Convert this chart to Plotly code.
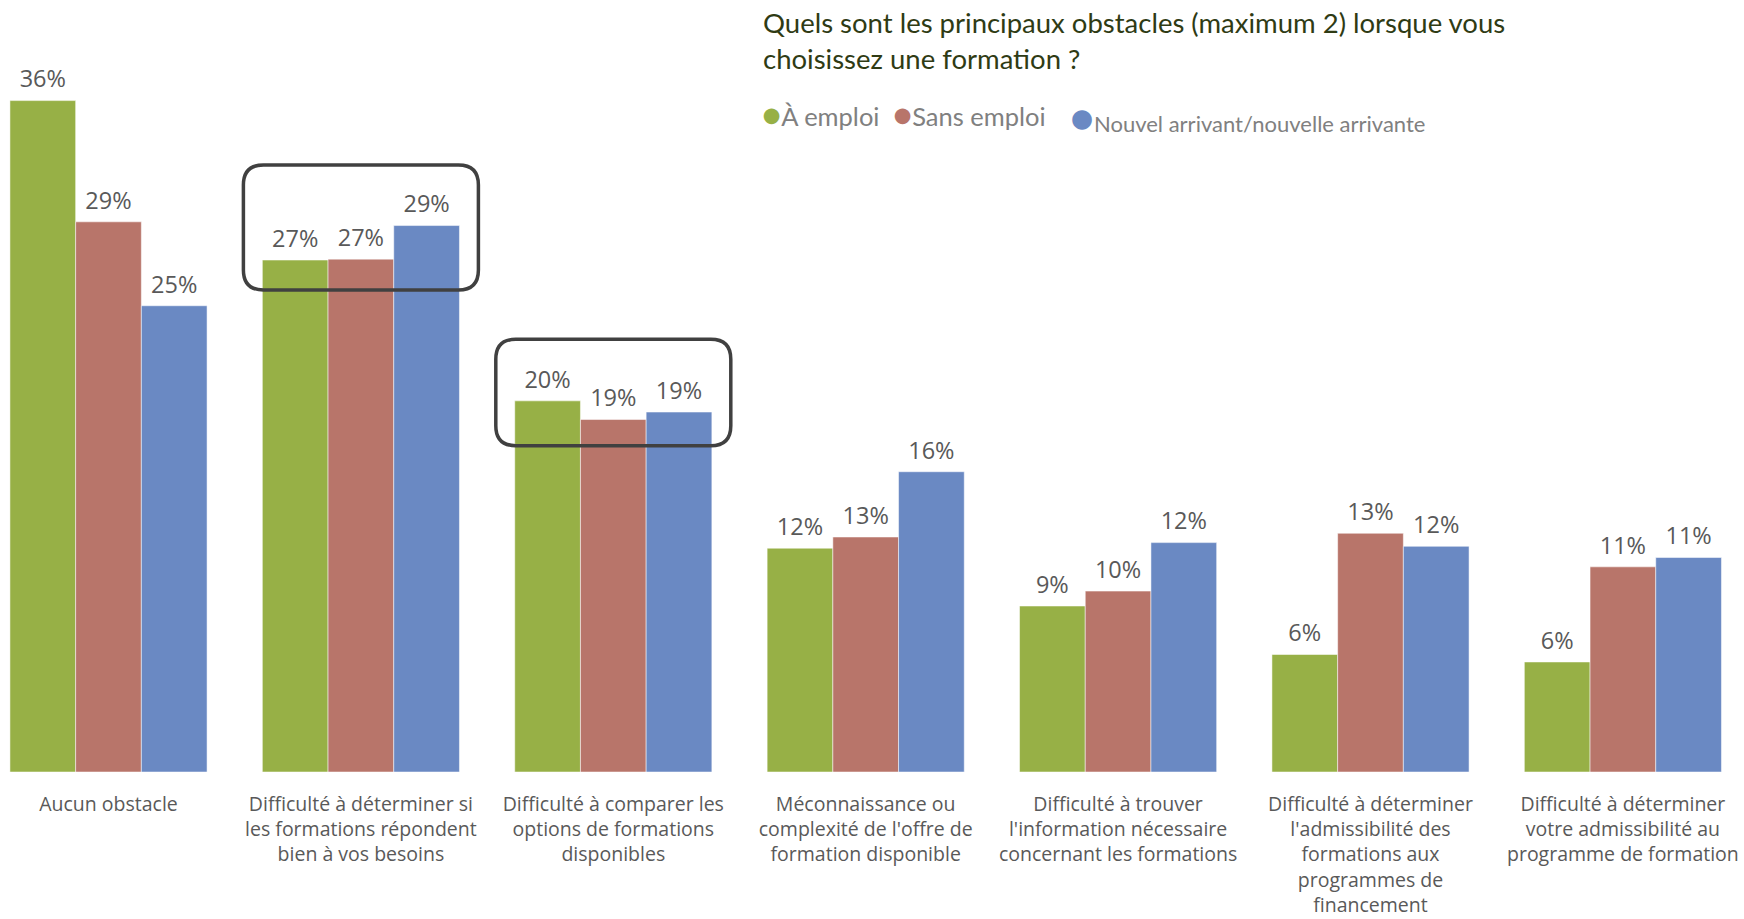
import plotly.graph_objects as go

# ---------------- data ----------------
CATEGORIES = [
    "Aucun obstacle",
    "Difficulté à déterminer si<br>les formations répondent<br>bien à vos besoins",
    "Difficulté à comparer les<br>options de formations<br>disponibles",
    "Méconnaissance ou<br>complexité de l'offre de<br>formation disponible",
    "Difficulté à trouver<br>l'information nécessaire<br>concernant les formations",
    "Difficulté à déterminer<br>l'admissibilité des<br>formations aux<br>programmes de<br>financement",
    "Difficulté à déterminer<br>votre admissibilité au<br>programme de formation",
]
SERIES = ["À emploi", "Sans emploi", "Nouvel arrivant/nouvelle arrivante"]
EMPLOI = [36.0, 27.45, 19.9, 12.0, 8.9, 6.3, 5.9]
SANS_EMPLOI = [29.5, 27.5, 18.9, 12.6, 9.7, 12.8, 11.0]
NOUVEL = [25.0, 29.3, 19.3, 16.1, 12.3, 12.1, 11.5]
EMPLOI_LABELS = ["36%", "27%", "20%", "12%", "9%", "6%", "6%"]
SANS_LABELS = ["29%", "27%", "19%", "13%", "10%", "13%", "11%"]
NOUVEL_LABELS = ["25%", "29%", "19%", "16%", "12%", "12%", "11%"]
COLORS = ["#97b046", "#b8756a", "#6a89c3"]
TITLE = "Quels sont les principaux obstacles (maximum 2) lorsque vous<br>choisissez une formation ?"
HIGHLIGHT_GROUPS = [1, 2]
HIGHLIGHT_Y = [(25.85, 32.55), (17.5, 23.2)]

# ---------------- layout constants ----------------
W, H = 1744, 919
PLOT_BOTTOM_PX = 772
PX_PER_GROUP = 252.4
PX_PER_PCT = 18.65
FIRST_CENTER_PX = 108.5
X0 = -FIRST_CENTER_PX / PX_PER_GROUP
XRANGE = [X0, X0 + W / PX_PER_GROUP]
YRANGE = [0, PLOT_BOTTOM_PX / PX_PER_PCT]
BARGAP = 0.219

LABEL_COLOR = "#595959"
FONT = "Open Sans"

x = list(range(len(CATEGORIES)))
fig = go.Figure()
for name, vals, col in zip(SERIES, [EMPLOI, SANS_EMPLOI, NOUVEL], COLORS):
    fig.add_trace(go.Bar(
        x=x, y=vals, name=name,
        marker=dict(color=col, line=dict(color="rgba(255,255,255,0.5)", width=1)),
        showlegend=False, hoverinfo="skip",
    ))

# value labels: grouped scatter text aligned with grouped bars
for name, vals, labels in zip(SERIES, [EMPLOI, SANS_EMPLOI, NOUVEL],
                              [EMPLOI_LABELS, SANS_LABELS, NOUVEL_LABELS]):
    fig.add_trace(go.Scatter(
        x=x, y=vals, name=name + " labels", mode="markers+text",
        text=labels, textposition="top center", cliponaxis=False,
        marker=dict(size=10, opacity=0, color="white"),
        textfont=dict(family=FONT, size=23.5, color=LABEL_COLOR),
        showlegend=False, hoverinfo="skip",
    ))

# rounded highlight boxes
half_w = 117.5 / PX_PER_GROUP
rx = 20 / PX_PER_GROUP
ry = 20 / PX_PER_PCT
for g, (yb, yt) in zip(HIGHLIGHT_GROUPS, HIGHLIGHT_Y):
    x0, x1 = g - half_w, g + half_w
    path = (f"M {x0+rx},{yt} L {x1-rx},{yt} Q {x1},{yt} {x1},{yt-ry} "
            f"L {x1},{yb+ry} Q {x1},{yb} {x1-rx},{yb} L {x0+rx},{yb} "
            f"Q {x0},{yb} {x0},{yb+ry} L {x0},{yt-ry} Q {x0},{yt} {x0+rx},{yt} Z")
    fig.add_shape(type="path", path=path, xref="x", yref="y",
                  line=dict(color="#404040", width=3.5), layer="above")


def py(p):
    return (PLOT_BOTTOM_PX - p) / PLOT_BOTTOM_PX


# title
fig.add_annotation(
    x=760.7 / W, y=py(4), xref="paper", yref="paper", xanchor="left", yanchor="top",
    align="left", showarrow=False, text=TITLE,
    font=dict(family="Lato", size=27.5, color="#2f3b14"),
)

# legend as text annotations
legend_items = [
    (SERIES[0], COLORS[0], 760, 113.5, 25.5, 32),
    (SERIES[1], COLORS[1], 891, 113.5, 25.5, 32),
    (SERIES[2], COLORS[2], 1068, 117, 22, 40),
]
for name, col, xpx, ypx, fs, dotfs in legend_items:
    fig.add_annotation(
        x=xpx / W, y=py(ypx), xref="paper", yref="paper",
        xanchor="left", yanchor="middle", showarrow=False,
        text=f"<span style='color:{col};font-size:{dotfs}px'>●</span>{name}",
        font=dict(family="Lato", size=fs, color="#808080"),
    )

fig.update_layout(
    width=W, height=H,
    template="none",
    paper_bgcolor="white", plot_bgcolor="white",
    margin=dict(l=0, r=0, t=0, b=H - PLOT_BOTTOM_PX, pad=0),
    barmode="group", bargap=BARGAP, bargroupgap=0,
    scattermode="group", scattergap=BARGAP,
    xaxis=dict(range=XRANGE, tickmode="array", tickvals=x, ticktext=CATEGORIES,
               showgrid=False, zeroline=False, showline=False, ticks="",
               automargin=False, ticklabelstandoff=18,
               tickfont=dict(family=FONT, size=19.5, color=LABEL_COLOR)),
    yaxis=dict(range=YRANGE, visible=False, showgrid=False, zeroline=False,
               automargin=False),
    showlegend=False,
)

fig.write_html("out.html", config={"displayModeBar": False},
               post_script="document.body.style.margin='0px';")
